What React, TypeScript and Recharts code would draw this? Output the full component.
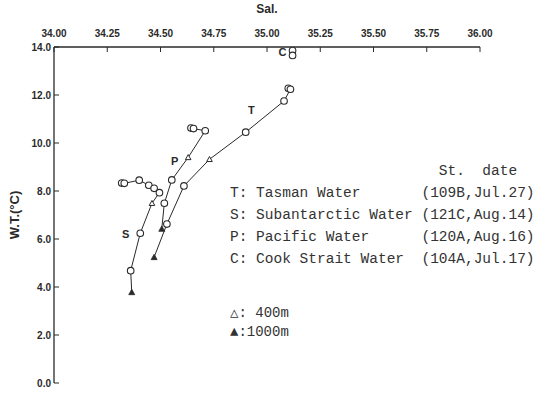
import React from 'react';
import { ScatterChart, Scatter, XAxis, YAxis, ReferenceDot } from 'recharts';

// T-S diagram, Tasman / Subantarctic / Pacific / Cook Strait waters
// mark: 'o' = sample, '400' = 400m, '1000' = 1000m
const tasmanSal = [35.1, 35.11, 35.08, 34.9, 34.73, 34.61, 34.53, 34.47];
const tasmanTemp = [12.28, 12.24, 11.75, 10.45, 9.32, 8.21, 6.62, 5.24];
const tasmanMark = ['o', 'o', 'o', 'o', '400', 'o', 'o', '1000'];

const subantSal = [34.318, 34.33, 34.4, 34.445, 34.47, 34.495, 34.46, 34.405, 34.36, 34.365];
const subantTemp = [8.33, 8.32, 8.45, 8.24, 8.11, 7.93, 7.49, 6.24, 4.68, 3.78];
const subantMark = ['o', 'o', 'o', 'o', 'o', 'o', '400', 'o', 'o', '1000'];

const pacificSal = [34.643, 34.655, 34.71, 34.63, 34.553, 34.518, 34.506];
const pacificTemp = [10.62, 10.6, 10.51, 9.4, 8.46, 7.49, 6.42];
const pacificMark = ['o', 'o', 'o', '400', 'o', 'o', '1000'];

const cookSal = [35.12, 35.12];
const cookTemp = [13.85, 13.65];
const cookMark = ['o', 'o'];

const salTicks = [34, 34.25, 34.5, 34.75, 35, 35.25, 35.5, 35.75, 36];
const tempTicks = [0, 2, 4, 6, 8, 10, 12, 14];

const seriesLabels = [
  { text: 'T', sal: 34.927, temp: 11.37 },
  { text: 'P', sal: 34.567, temp: 9.25 },
  { text: 'S', sal: 34.337, temp: 6.21 },
  { text: 'C', sal: 35.073, temp: 13.79 },
];

const legendHeader = '                        St.  date';
const legendRows = [
  'T: Tasman Water       (109B,Jul.27)',
  'S: Subantarctic Water (121C,Aug.14)',
  'P: Pacific Water      (120A,Aug.16)',
  'C: Cook Strait Water  (104A,Jul.17)',
];
const depthRows = ['\u25B3: 400m', '\u25B2:1000m'];

const build = (sal: number[], temp: number[], mark: string[]) =>
  sal.map((s, i) => ({ sal: s, temp: temp[i], mark: mark[i] }));

const INK = '#2a2a2a';
const AXIS_FONT = '"Liberation Sans", Arial, sans-serif';
const MONO = '"Liberation Mono", "DejaVu Sans Mono", monospace';

const Marker = (props: any) => {
  const { cx, cy, payload } = props;
  if (cx == null || cy == null) return null;
  if (payload.mark === '400') {
    const s = 2.8;
    return (
      <path
        d={`M${cx},${cy - s} L${cx + s},${cy + s * 0.8} L${cx - s},${cy + s * 0.8} Z`}
        fill="#fff"
        stroke={INK}
        strokeWidth={1}
      />
    );
  }
  if (payload.mark === '1000') {
    const s = 3;
    return (
      <path
        d={`M${cx},${cy - s} L${cx + s},${cy + s * 0.8} L${cx - s},${cy + s * 0.8} Z`}
        fill={INK}
        stroke={INK}
        strokeWidth={0.8}
      />
    );
  }
  return <circle cx={cx} cy={cy} r={3.3} fill="#fff" stroke={INK} strokeWidth={1.1} />;
};

const TopTick = (props: any) => {
  const { x, y, payload } = props;
  return (
    <g>
      <line x1={x} y1={y} x2={x} y2={y + 5} stroke={INK} strokeWidth={1} />
      <text x={x} y={y - 10} textAnchor="middle" fontSize={10} fontWeight="bold" fontFamily={AXIS_FONT} fill={INK}>
        {Number(payload.value).toFixed(2)}
      </text>
    </g>
  );
};

const LeftTick = (props: any) => {
  const { x, y, payload } = props;
  return (
    <g>
      <line x1={x} y1={y} x2={x + 5} y2={y} stroke={INK} strokeWidth={1} />
      <text x={x - 3} y={y + 3.5} textAnchor="end" fontSize={10} fontWeight="bold" fontFamily={AXIS_FONT} fill={INK}>
        {Number(payload.value).toFixed(1)}
      </text>
    </g>
  );
};

const lineStyle = { stroke: INK, strokeWidth: 1 };

export default function App() {
  const tasman = build(tasmanSal, tasmanTemp, tasmanMark);
  const subant = build(subantSal, subantTemp, subantMark);
  const pacific = build(pacificSal, pacificTemp, pacificMark);
  const cook = build(cookSal, cookTemp, cookMark);

  return (
    <div style={{ position: 'absolute', left: 0, top: 0, width: 548, height: 396, background: '#fff' }}>
      <ScatterChart width={548} height={396} margin={{ top: 0, right: 68, bottom: 13, left: 0 }}>
        <XAxis
          type="number"
          dataKey="sal"
          orientation="top"
          domain={[34, 36]}
          ticks={salTicks}
          height={47}
          tickSize={0}
          tickMargin={0}
          tickLine={false}
          tick={<TopTick />}
          axisLine={{ stroke: INK, strokeWidth: 1.3 }}
          label={{ value: 'Sal.', position: 'insideTop', offset: 4, style: { fontFamily: AXIS_FONT, fontWeight: 'bold', fontSize: 12, fill: INK } }}
        />
        <YAxis
          type="number"
          dataKey="temp"
          domain={[0, 14]}
          ticks={tempTicks}
          width={54}
          tickSize={0}
          tickMargin={0}
          tickLine={false}
          tick={<LeftTick />}
          axisLine={{ stroke: INK, strokeWidth: 1.3 }}
          label={{ value: 'W.T.(\u00B0C)', angle: -90, position: 'insideLeft', offset: 14, style: { textAnchor: 'middle', fontFamily: AXIS_FONT, fontWeight: 'bold', fontSize: 13, fill: INK } }}
        />
        <Scatter data={tasman} line={lineStyle} shape={<Marker />} isAnimationActive={false} />
        <Scatter data={subant} line={lineStyle} shape={<Marker />} isAnimationActive={false} />
        <Scatter data={pacific} line={lineStyle} shape={<Marker />} isAnimationActive={false} />
        <Scatter data={cook} line={lineStyle} shape={<Marker />} isAnimationActive={false} />
        {seriesLabels.map((l) => (
          <ReferenceDot
            key={l.text}
            x={l.sal}
            y={l.temp}
            r={0}
            stroke="none"
            label={{ value: l.text, position: 'center', style: { fontFamily: AXIS_FONT, fontWeight: 'bold', fontSize: 11, fill: INK } }}
          />
        ))}
      </ScatterChart>
      <svg width={548} height={396} style={{ position: 'absolute', left: 0, top: 0, pointerEvents: 'none' }}>
        <text x={230} y={175} fontFamily={MONO} fontSize={14.5} fill="#333" style={{ whiteSpace: 'pre' }}>
          {legendHeader}
        </text>
        {legendRows.map((row, i) => (
          <text key={row} x={230} y={197 + i * 22} fontFamily={MONO} fontSize={14.5} fill="#333" style={{ whiteSpace: 'pre' }}>
            {row}
          </text>
        ))}
        {depthRows.map((row, i) => (
          <text key={row} x={230} y={317 + i * 19} fontFamily={MONO} fontSize={14} fill="#333" style={{ whiteSpace: 'pre' }}>
            {row}
          </text>
        ))}
      </svg>
    </div>
  );
}
